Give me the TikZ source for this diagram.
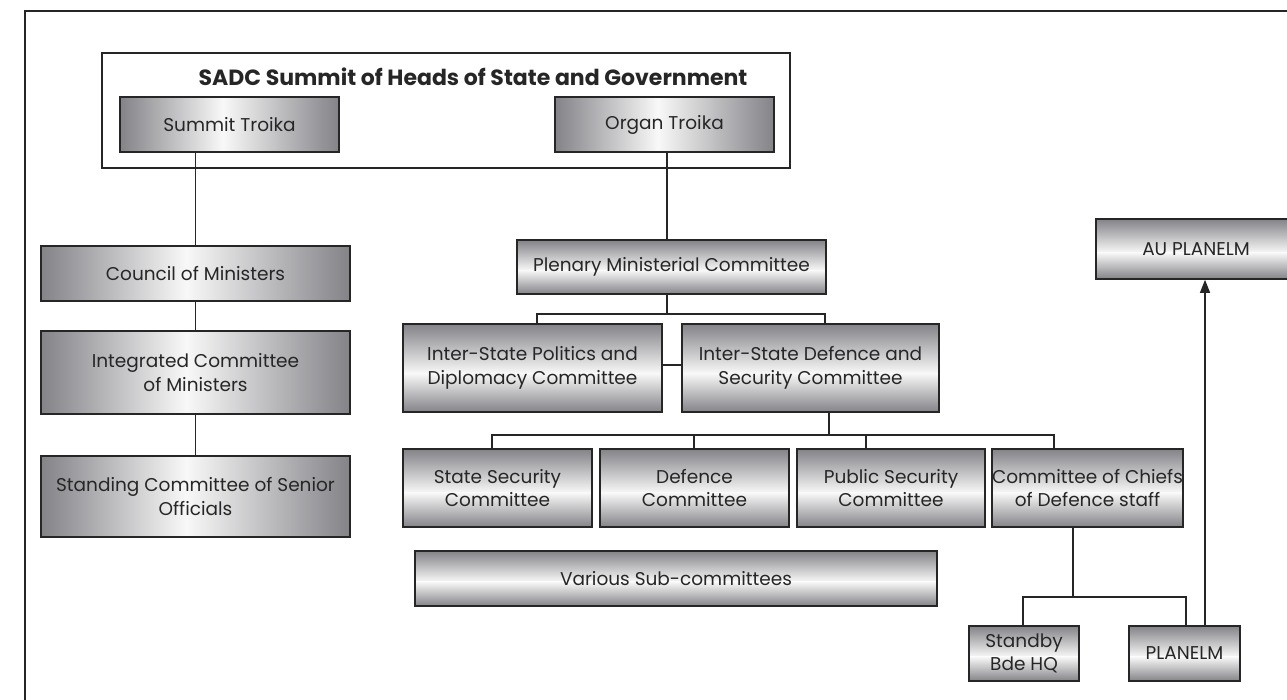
\documentclass[tikz,border=0pt]{standalone}
\usepackage{fontspec}
\setmainfont{Poppins}
\usetikzlibrary{arrows.meta,calc}

\definecolor{ink}{HTML}{262626}
\definecolor{steel}{HTML}{838388}
\definecolor{sheen}{HTML}{F8F8F8}

\tikzset{
  box/.style={draw=ink, line width=1.6pt, text=ink, align=center,
    inner sep=0pt, font=\fontsize{18.5}{23.5}\selectfont},
  % metallic fill, bright band running top to bottom
  hbox/.style={box, path picture={
    \coordinate (bbl) at (path picture bounding box.south west);
    \coordinate (btl) at (path picture bounding box.north west);
    \coordinate (bbr) at (path picture bounding box.south east);
    \coordinate (btr) at (path picture bounding box.north east);
    \coordinate (bmid) at ($(bbl)!0.47!(bbr)$);
    \shade[left color=steel, right color=sheen] (btl) rectangle (bmid);
    \shade[left color=sheen, right color=steel] (bmid) rectangle (btr);}},
  % metallic fill, bright band running left to right
  vbox/.style={box, path picture={
    \coordinate (bbl) at (path picture bounding box.south west);
    \coordinate (btl) at (path picture bounding box.north west);
    \coordinate (btr) at (path picture bounding box.north east);
    \coordinate (bbr) at (path picture bounding box.south east);
    \coordinate (bmid) at ($(btl)!0.56!(bbl)$);
    \shade[top color=steel, bottom color=sheen] (btr) rectangle (bmid);
    \shade[top color=sheen, bottom color=steel] (bmid) rectangle (bbr);}},
  wire/.style={draw=ink, line width=1.3pt},
}

\begin{document}
\begin{tikzpicture}[x=1pt, y=-1pt]
\clip (0,0) rectangle (1287,699);
\fill[white] (0,0) rectangle (1287,699);

% outer frame (only its top and left sides fall inside the page)
\draw[ink, line width=2pt] (25,720) -- (25,11) -- (1300,11);

% summit
\node[draw=ink, line width=1.6pt, minimum width=688, minimum height=115, inner sep=0pt] (sadc) at (446,110.5) {};
\node[text=ink, font=\bfseries\fontsize{22}{24}\selectfont, inner sep=0pt] (title) at (473,77) {SADC Summit of Heads of State and Government};
\node[hbox, minimum width=219, minimum height=55] (sumt) at (229.5,124.5) {Summit Troika};
\node[hbox, minimum width=219, minimum height=55] (orgt) at (664.5,124.5) {Organ Troika};

% left column
\node[hbox, minimum width=309, minimum height=55] (council) at (195.5,273.5) {Council of Ministers};
\node[hbox, minimum width=309, minimum height=83] (icm) at (195.5,372.5) {Integrated Committee\\of Ministers};
\node[hbox, minimum width=309, minimum height=81] (scso) at (195.5,496.5) {Standing Committee of Senior\\Officials};

% organ branch
\node[vbox, minimum width=309, minimum height=54] (pmc) at (671.5,267) {Plenary Ministerial Committee};
\node[vbox, minimum width=259, minimum height=88] (ispdc) at (532.5,368) {Inter-State Politics and\\Diplomacy Committee};
\node[vbox, minimum width=257, minimum height=88] (isdsc) at (810.5,368) {Inter-State Defence and\\Security Committee};

\node[vbox, minimum width=189, minimum height=78] (ssc) at (497.5,488) {State Security\\Committee};
\node[vbox, minimum width=189, minimum height=78] (dc) at (694.5,488) {Defence\\Committee};
\node[vbox, minimum width=188, minimum height=78] (psc) at (891,488) {Public Security\\Committee};
\node[vbox, minimum width=189, minimum height=78] (cds) at (1087.5,488) {Committee of Chiefs\\of Defence staff};

\node[vbox, minimum width=522, minimum height=55] (subs) at (676,578.5) {Various Sub-committees};

\node[vbox, minimum width=110, minimum height=55] (bde) at (1024,653.5) {Standby\\Bde HQ};
\node[vbox, minimum width=111, minimum height=55] (plm) at (1184.5,653.5) {PLANELM};
\node[vbox, minimum width=200, minimum height=60] (au) at (1196,249) {AU PLANELM};

% junction points of the tree
\coordinate (pbar) at (667,314);
\coordinate (dbar) at (829,435);
\coordinate (cbar) at (1073,597);

% connectors
\draw[wire] (council.north) -- (council.north |- sumt.south);
\draw[wire] (council) -- (icm);
\draw[wire] (icm) -- (scso);

\draw[wire] (pbar |- orgt.south) -- (pbar |- pmc.north);
\draw[wire] (pmc.south -| pbar) -- (pbar);
\draw[wire] ([xshift=4.5]ispdc.north) |- ([xshift=14.5]isdsc.north |- pbar) -- ([xshift=14.5]isdsc.north);
\draw[wire] ([yshift=3]ispdc.east) -- ([yshift=3]isdsc.west);

\draw[wire] (isdsc.south -| dbar) -- (dbar);
\draw[wire] ([xshift=-5.5]ssc.north) |- ([xshift=-33.5]cds.north |- dbar) -- ([xshift=-33.5]cds.north);
\draw[wire] ([xshift=-0.5]dc.north) -- ([xshift=-0.5]dc.north |- dbar);
\draw[wire] ([xshift=-25]psc.north) -- ([xshift=-25]psc.north |- dbar);

\draw[wire] (cds.south -| cbar) -- (cbar);
\draw[wire] ([xshift=-1]bde.north) |- ([xshift=1.5]plm.north |- cbar) -- ([xshift=1.5]plm.north);

\draw[wire, -{Triangle[length=13pt, width=10pt]}] ([xshift=20.5]plm.north) -- ([xshift=20.5]plm.north |- au.south);
\end{tikzpicture}
\end{document}
